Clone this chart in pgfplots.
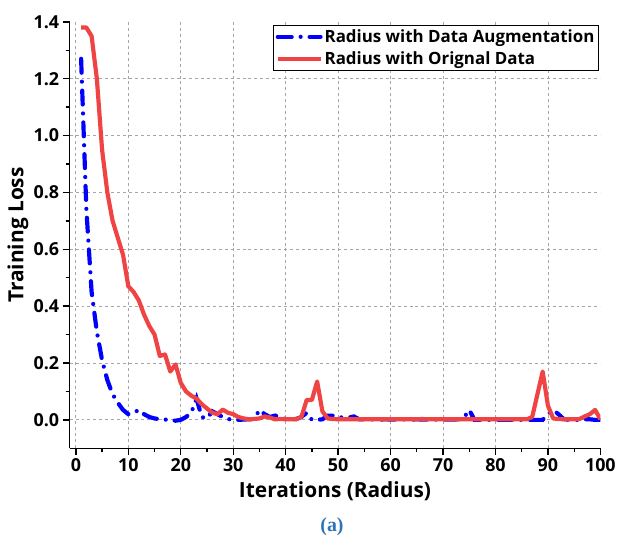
\documentclass[border=0pt]{standalone}
\usepackage{fontspec}
\setmainfont{Open Sans}
\newfontfamily\capfont{Liberation Serif}
\usepackage{pgfplots}
\pgfplotsset{compat=1.18}
\definecolor{myred}{RGB}{240,68,68}
\definecolor{capblue}{RGB}{46,117,182}
\begin{document}
\begin{tikzpicture}
\begin{axis}[
  scale only axis, width=534pt, height=429pt,
  xmin=-1.2, xmax=100, ymin=-0.1, ymax=1.4,
  axis lines*=left,
  axis line style={line width=1.3pt, black},
  xtick={0,10,20,30,40,50,60,70,80,90},
  extra x ticks={100},
  ytick={0,0.2,0.4,0.6,0.8,1.0,1.2},
  extra y ticks={1.4},
  extra tick style={grid=none},
  minor xtick={5,15,25,35,45,55,65,75,85,95},
  minor ytick={0.1,0.3,0.5,0.7,0.9,1.1,1.3},
  tick align=outside,
  major tick length=7pt, minor tick length=4pt,
  every tick/.style={line width=1.3pt, black},
  grid=major,
  major grid style={gray!70, line width=0.8pt, dash pattern=on 3pt off 3pt},
  ticklabel style={font=\fontsize{18}{20}\selectfont\bfseries},
  /pgf/number format/assume math mode=true,
  yticklabel style={/pgf/number format/.cd, fixed, fixed zerofill, precision=1},
  xticklabel style={/pgf/number format/.cd, fixed, precision=0},
  xlabel={Iterations (Radius)}, ylabel={Training Loss},
  label style={font=\fontsize{21}{24}\selectfont\bfseries},
  xlabel style={at={(rel axis cs:0.5,-0.1)}, anchor=center},
  ylabel style={at={(rel axis cs:-0.0974,0.5)}, anchor=center},
  legend style={at={(rel axis cs:0.997,0.992)}, anchor=north east, draw=black, line width=0.8pt,
    font=\fontsize{17}{19}\selectfont\bfseries, inner sep=2pt, row sep=4pt},
  legend cell align=left,
  legend image code/.code={\draw[#1] (0pt,0pt) -- (43pt,0pt);},
]
\addplot[blue, line width=4.2pt, line cap=round, dash pattern=on 14pt off 9pt on 0pt off 9pt] coordinates {
(1,1.27) (2,0.74) (3,0.45) (4,0.31) (5,0.21) (6,0.14) (7,0.09) (8,0.06) (9,0.035) (10,0.02)
(11,0.025) (12,0.035) (13,0.02) (14,0.01) (15,0.005) (16,0.002) (17,0.001) (18,0.0) (19,-0.003) (20,0.0)
(21,0.01) (22,0.025) (23,0.075) (24,0.01) (25,0.005) (26,0.03) (27,0.02) (28,0.01) (29,0.003) (30,0.0)
(31,0.0) (32,0.001) (33,0.002) (34,0.003) (35,0.035) (36,0.02) (37,0.01) (38,0.015) (39,0.01) (40,0.003)
(41,0.002) (42,0.003) (43,0.01) (44,0.025) (45,0.0) (46,0.0) (47,0.002) (48,0.015) (49,0.015) (50,0.01)
(51,0.008) (52,0.008) (53,0.012) (54,0.002) (55,0.002) (56,0.001) (57,0.002) (58,0.001) (59,0.002) (60,0.001)
(61,0.001) (62,0.002) (63,0.001) (64,0.001) (65,0.002) (66,0.001) (67,0.001) (68,0.001) (69,0.001) (70,0.001)
(71,0.001) (72,0.001) (73,0.002) (74,0.008) (75,0.035) (76,0.0) (77,0.0) (78,0.0) (79,0.0) (80,0.0)
(81,0.0) (82,0.0) (83,0.0) (84,0.0) (85,0.0) (86,0.0) (87,0.0) (88,0.0) (89,0.0) (90,0.02)
(91,0.035) (92,0.02) (93,0.003) (94,0.0) (95,0.0) (96,0.0) (97,0.002) (98,0.002) (99,0.0) (100,0.0)
};
\addlegendentry{Radius with Data Augmentation}
\addplot[myred, line width=4.2pt, line join=round] coordinates {
(1,1.38) (2,1.38) (3,1.35) (4,1.20) (5,0.95) (6,0.80) (7,0.70) (8,0.64) (9,0.58) (10,0.47)
(11,0.45) (12,0.42) (13,0.37) (14,0.33) (15,0.30) (16,0.225) (17,0.23) (18,0.17) (19,0.195) (20,0.13)
(21,0.10) (22,0.085) (23,0.075) (24,0.055) (25,0.04) (26,0.025) (27,0.02) (28,0.036) (29,0.025) (30,0.02)
(31,0.01) (32,0.005) (33,0.002) (34,0.003) (35,0.005) (36,0.012) (37,0.008) (38,0.002) (39,0.003) (40,0.002)
(41,0.002) (42,0.002) (43,0.01) (44,0.07) (45,0.07) (46,0.135) (47,0.03) (48,0.005) (49,0.003) (50,0.002)
(51,0.002) (52,0.002) (53,0.002) (54,0.002) (55,0.002) (56,0.002) (57,0.002) (58,0.002) (59,0.002) (60,0.002)
(61,0.002) (62,0.002) (63,0.002) (64,0.002) (65,0.002) (66,0.003) (67,0.002) (68,0.002) (69,0.002) (70,0.002)
(71,0.002) (72,0.002) (73,0.002) (74,0.002) (75,0.002) (76,0.002) (77,0.002) (78,0.002) (79,0.002) (80,0.002)
(81,0.002) (82,0.002) (83,0.002) (84,0.002) (85,0.002) (86,0.002) (87,0.01) (88,0.09) (89,0.17) (90,0.05)
(91,0.005) (92,0.003) (93,0.002) (94,0.002) (95,0.002) (96,0.003) (97,0.012) (98,0.02) (99,0.035) (100,0.002)
};
\addlegendentry{Radius with Orignal Data}
\end{axis}
\node[font=\capfont\fontsize{20}{22}\selectfont\bfseries, text=capblue] at ([xshift=-3pt,yshift=-79pt]current axis.south) {(a)};
\path (current axis.south west) ++(-70pt,-89pt) coordinate (bbA);
\path (current axis.north east) ++(15pt,22pt) coordinate (bbB);
\path (bbA) rectangle (bbB);
\end{tikzpicture}
\end{document}
